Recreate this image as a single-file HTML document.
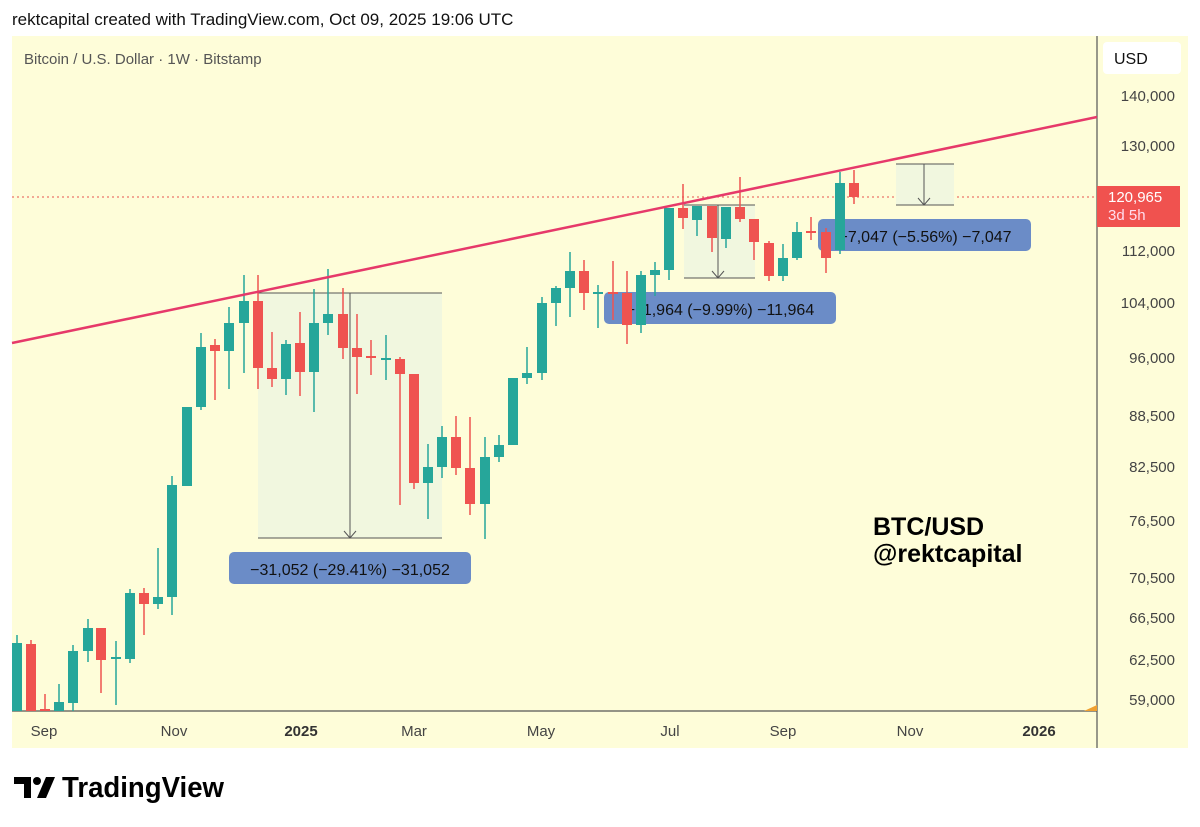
<!DOCTYPE html>
<html><head><meta charset="utf-8"><style>
body{margin:0;width:1200px;height:827px;background:#fff;font-family:"Liberation Sans",sans-serif;overflow:hidden;position:relative}
.t{position:absolute;white-space:nowrap}
</style></head><body>
<div class="t" style="left:12px;top:10px;font-size:17px;color:#111">rektcapital created with TradingView.com, Oct 09, 2025 19:06 UTC</div>
<svg width="1200" height="827" style="position:absolute;left:0;top:0" id="s">
<rect x="12" y="36" width="1176" height="712" fill="#fefdd9"/>
<text x="24" y="64" font-size="15" fill="#555">Bitcoin / U.S. Dollar · 1W · Bitstamp</text>
<line x1="1097" y1="36" x2="1097" y2="748" stroke="#555" stroke-width="1.2"/>
<line x1="12" y1="711" x2="1097" y2="711" stroke="#555" stroke-width="1.2"/>
<line x1="12" y1="197" x2="1097" y2="197" stroke="#e8534f" stroke-width="1" stroke-dasharray="2,3"/>
<g id="boxes">
<rect x="258" y="293" width="184" height="245" fill="#f1f7df"/>
<line x1="258" y1="293" x2="442" y2="293" stroke="#555"/><line x1="258" y1="538" x2="442" y2="538" stroke="#555"/>
<line x1="350" y1="293" x2="350" y2="538" stroke="#555"/><polyline points="344,531 350,538 356,531" fill="none" stroke="#555"/>
<rect x="684" y="205" width="71" height="73" fill="#f1f7df"/>
<line x1="684" y1="205" x2="755" y2="205" stroke="#555"/><line x1="684" y1="278" x2="755" y2="278" stroke="#555"/>
<line x1="718" y1="205" x2="718" y2="278" stroke="#555"/><polyline points="712,271 718,278 724,271" fill="none" stroke="#555"/>
<rect x="896" y="164" width="58" height="41" fill="#f1f7df"/>
<line x1="896" y1="164" x2="954" y2="164" stroke="#555"/><line x1="896" y1="205" x2="954" y2="205" stroke="#555"/>
<line x1="924" y1="164" x2="924" y2="205" stroke="#555"/><polyline points="918,198 924,205 930,198" fill="none" stroke="#555"/>
<rect x="229" y="552" width="242" height="32" rx="5" fill="#6b8cc7"/>
<rect x="604" y="292" width="232" height="32" rx="5" fill="#6b8cc7"/>
<rect x="818" y="219" width="213" height="32" rx="5" fill="#6b8cc7"/>
<text x="350" y="575" font-size="16" text-anchor="middle" fill="#111">−31,052 (−29.41%) −31,052</text>
<text x="720" y="315" font-size="16" text-anchor="middle" fill="#111">−11,964 (−9.99%) −11,964</text>
<text x="925" y="242" font-size="16" text-anchor="middle" fill="#111">−7,047 (−5.56%) −7,047</text>
</g>
<g id="c"></g>
<line x1="12" y1="343" x2="1097" y2="117" stroke="#e6396a" stroke-width="2.5"/>
<rect x="1103" y="42" width="78" height="32" rx="4" fill="#fff"/>
<text x="1114" y="64" font-size="16" fill="#111">USD</text>
<g font-size="15" fill="#444" text-anchor="end">
<text x="1175" y="101">140,000</text><text x="1175" y="151">130,000</text><text x="1175" y="256">112,000</text>
<text x="1175" y="308">104,000</text><text x="1175" y="363">96,000</text><text x="1175" y="421">88,500</text>
<text x="1175" y="472">82,500</text><text x="1175" y="526">76,500</text><text x="1175" y="583">70,500</text>
<text x="1175" y="623">66,500</text><text x="1175" y="665">62,500</text><text x="1175" y="705">59,000</text>
</g>
<rect x="1097" y="186" width="83" height="41" fill="#f0524f"/>
<text x="1108" y="202" font-size="15" fill="#fff">120,965</text>
<text x="1108" y="220" font-size="15" fill="#fde">3d 5h</text>
<polygon points="1084,711 1097,705 1097,711" fill="#f0a030"/>
<g font-size="15" fill="#444" text-anchor="middle">
<text x="44" y="736">Sep</text><text x="174" y="736">Nov</text><text x="301" y="736" font-weight="bold" fill="#333">2025</text>
<text x="414" y="736">Mar</text><text x="541" y="736">May</text><text x="670" y="736">Jul</text>
<text x="783" y="736">Sep</text><text x="910" y="736">Nov</text><text x="1039" y="736" font-weight="bold" fill="#333">2026</text>
</g>
<text x="873" y="535" font-size="25" font-weight="bold" fill="#000">BTC/USD</text>
<text x="873" y="562" font-size="25" font-weight="bold" fill="#000">@rektcapital</text>
<text x="62" y="797" font-size="29" font-weight="bold" fill="#000" textLength="162" lengthAdjust="spacingAndGlyphs">TradingView</text>
<path d="M14 777h17v21h-7v-14h-10z" fill="#000"/><circle cx="37" cy="781" r="4" fill="#000"/><path d="M46 777h9l-9 21h-9z" fill="#000"/>
</svg>
<script>
var G='#26a69a',R='#ef5350';
var d=[[17,G,643,711,635,711],[31,R,644,711,640,711],[45,R,709,711,694,711],[59,G,702,711,684,711],[73,G,651,703,645,711],[88,G,628,651,619,662],[101,R,628,660,628,693],[116,G,657,659,641,705],[130,G,593,659,589,663],[144,R,593,604,588,635],[158,G,597,604,548,609],[172,G,485,597,476,615],[187,G,407,486,407,486],[201,G,347,407,333,410],[215,R,345,351,339,400],[229,G,323,351,307,389],[244,G,301,323,275,373],[258,R,301,368,275,389],[272,R,368,379,332,387],[286,G,344,379,340,395],[300,R,343,372,312,396],[314,G,323,372,289,412],[328,G,314,323,269,335],[343,R,314,348,288,359],[357,R,348,357,314,394],[371,R,356,358,340,375],[386,G,358,360,335,380],[400,R,359,374,357,505],[414,R,374,483,374,489],[428,G,467,483,444,519],[442,G,437,467,426,478],[456,R,437,468,416,475],[470,R,468,504,417,515],[485,G,457,504,437,539],[499,G,445,457,435,462],[513,G,378,445,378,445],[527,G,373,378,347,384],[542,G,303,373,297,380],[556,G,288,303,286,326],[570,G,271,288,252,317],[584,R,271,293,260,310],[598,G,292,294,285,328],[613,R,292,294,261,320],[627,R,293,325,271,344],[641,G,275,325,271,333],[655,G,270,275,262,296],[669,G,208,270,208,280],[683,R,208,218,184,229],[697,G,206,220,206,236],[712,R,206,238,206,252],[726,G,207,239,207,248],[740,R,207,219,177,222],[754,R,219,242,219,260],[769,R,243,276,241,281],[783,G,258,276,244,281],[797,G,232,258,222,260],[811,R,231,233,217,240],[826,R,232,258,228,273],[840,G,183,250,172,254],[854,R,183,197,170,204]];
var h='';d.forEach(function(c){h+='<line x1="'+c[0]+'" y1="'+c[4]+'" x2="'+c[0]+'" y2="'+c[5]+'" stroke="'+c[1]+'" stroke-width="1.5"/><rect x="'+(c[0]-5)+'" y="'+c[2]+'" width="10" height="'+Math.max(2,c[3]-c[2])+'" fill="'+c[1]+'"/>';});
document.getElementById('c').innerHTML=h;
</script>
</body></html>
